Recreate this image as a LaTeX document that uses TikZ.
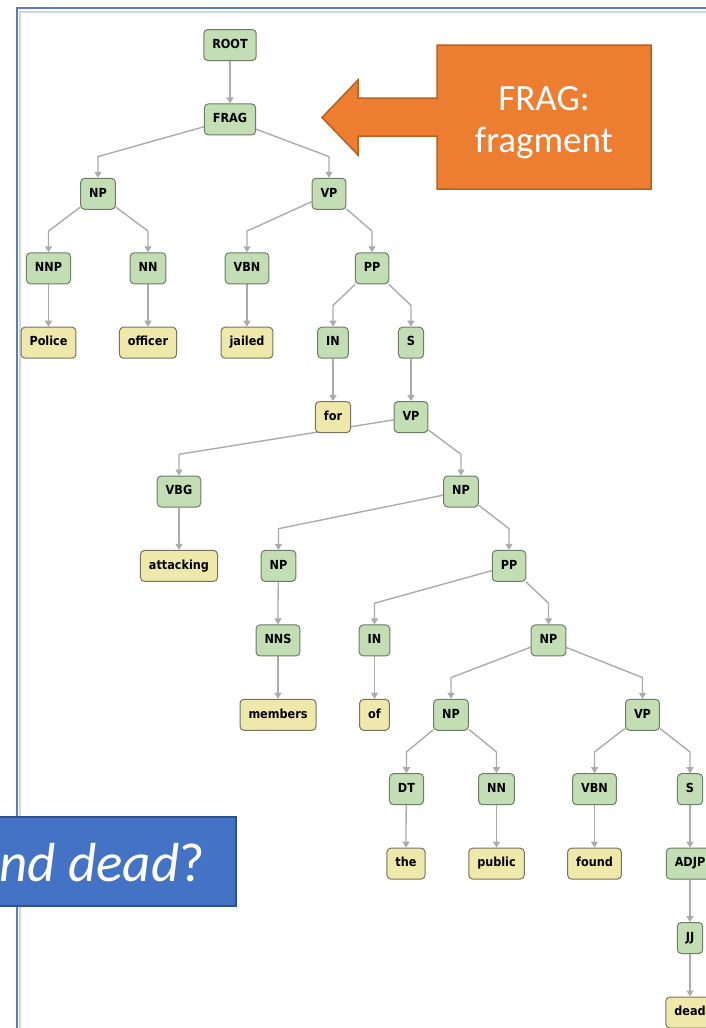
\documentclass[tikz,border=0pt]{standalone}
\usepackage{fontspec}
\newfontfamily\treefont{DejaVu Sans}[FakeStretch=0.9]
\newfontfamily\calfont{Carlito}
\usetikzlibrary{arrows.meta}
\pgfdeclarelayer{background}
\pgfsetlayers{background,main}
\definecolor{synfill}{HTML}{C3DDB5}
\definecolor{syndraw}{HTML}{6B7D65}
\definecolor{wordfill}{HTML}{EEE8AA}
\definecolor{worddraw}{HTML}{77735E}
\definecolor{edgegray}{HTML}{ABABAB}
\definecolor{orangefill}{HTML}{ED7D31}
\definecolor{orangedraw}{HTML}{B9601F}
\definecolor{bluefill}{HTML}{4472C4}
\definecolor{bluedraw}{HTML}{2F528F}
\definecolor{framedark}{HTML}{5A7CC4}
\definecolor{framelight}{HTML}{C6D6F6}
\tikzset{
  treenode/.style={rounded corners=4pt, line width=1pt, inner xsep=8.5pt, inner ysep=0pt,
    minimum height=31pt, text height=9pt, text depth=2.5pt,
    font=\treefont\bfseries\fontsize{12.5}{14}\selectfont},
  syn/.style={treenode, fill=synfill, draw=syndraw},
  word/.style={treenode, fill=wordfill, draw=worddraw},
  edge/.style={draw=edgegray, line width=1.4pt, -{Triangle[width=7pt,length=6pt]}},
  branch/.style={to path={-- ([yshift=37.2pt]\tikztotarget.center) -- (\tikztotarget)}},
  callout/.style={fill=orangefill, draw=orangedraw, line width=1.5pt},
  question/.style={fill=bluefill, draw=bluedraw, line width=1.5pt},
}
\begin{document}
\begin{tikzpicture}[x=1pt,y=-1pt]
\useasboundingbox (0,0) rectangle (706,1028);
% frame
\begin{pgfonlayer}{background}
\draw[framedark, line width=2pt] (17,1040) -- (17,8) -- (720,8);
\draw[framelight, line width=2pt] (20,1040) -- (20,11.5) -- (720,11.5);
\end{pgfonlayer}
% nodes
\node[syn] (ROOT) at (230,45) {ROOT};
\node[syn] (FRAG) at (230,119.4) {FRAG};
\node[syn] (NPa) at (98,193.8) {NP};
\node[syn] (VPa) at (329,193.8) {VP};
\node[syn] (NNP) at (48.5,268.3) {NNP};
\node[syn] (NNa) at (148,268.3) {NN};
\node[syn] (VBNa) at (247,268.3) {VBN};
\node[syn] (PPa) at (372,268.3) {PP};
\node[word] (wPolice) at (48.5,342.7) {Police};
\node[word] (wofficer) at (148,342.7) {officer};
\node[word] (wjailed) at (247,342.7) {jailed};
\node[syn] (INa) at (333,342.7) {IN};
\node[syn] (Sa) at (411,342.7) {S};
\node[word] (wfor) at (333,417.1) {for};
\node[syn] (VPb) at (411,417.1) {VP};
\node[syn] (VBG) at (179,491.5) {VBG};
\node[syn] (NPb) at (461,491.5) {NP};
\node[word] (wattacking) at (179,565.9) {attacking};
\node[syn] (NPc) at (278.5,565.9) {NP};
\node[syn] (PPb) at (509,565.9) {PP};
\node[syn] (NNS) at (278,640.4) {NNS};
\node[syn] (INb) at (374.5,640.4) {IN};
\node[syn] (NPd) at (548.5,640.4) {NP};
\node[word] (wmembers) at (278,714.8) {members};
\node[word] (wof) at (374.5,714.8) {of};
\node[syn] (NPe) at (451,714.8) {NP};
\node[syn] (VPc) at (642.5,714.8) {VP};
\node[syn] (DT) at (406.5,789.2) {DT};
\node[syn] (NNb) at (496.5,789.2) {NN};
\node[syn] (VBNb) at (594.5,789.2) {VBN};
\node[syn] (Sb) at (690,789.2) {S};
\node[word] (wthe) at (406,863.6) {the};
\node[word] (wpublic) at (496.5,863.6) {public};
\node[word] (wfound) at (594.5,863.6) {found};
\node[syn] (ADJP) at (690,863.6) {ADJP};
\node[syn] (JJ) at (690,938) {JJ};
\node[word] (wdead) at (690,1012.5) {dead};
% edges
\begin{pgfonlayer}{background}
\draw[edge] (ROOT) to[branch] (FRAG);
\draw[edge] (FRAG) to[branch] (NPa);
\draw[edge] (FRAG) to[branch] (VPa);
\draw[edge] (NPa) to[branch] (NNP);
\draw[edge] (NPa) to[branch] (NNa);
\draw[edge] (NNP) to[branch] (wPolice);
\draw[edge] (NNa) to[branch] (wofficer);
\draw[edge] (VPa) to[branch] (VBNa);
\draw[edge] (VPa) to[branch] (PPa);
\draw[edge] (VBNa) to[branch] (wjailed);
\draw[edge] (PPa) to[branch] (INa);
\draw[edge] (PPa) to[branch] (Sa);
\draw[edge] (INa) to[branch] (wfor);
\draw[edge] (Sa) to[branch] (VPb);
\draw[edge] (VPb) to[branch] (VBG);
\draw[edge] (VPb) to[branch] (NPb);
\draw[edge] (VBG) to[branch] (wattacking);
\draw[edge] (NPb) to[branch] (NPc);
\draw[edge] (NPb) to[branch] (PPb);
\draw[edge] (NPc) to[branch] (NNS);
\draw[edge] (NNS) to[branch] (wmembers);
\draw[edge] (PPb) to[branch] (INb);
\draw[edge] (PPb) to[branch] (NPd);
\draw[edge] (INb) to[branch] (wof);
\draw[edge] (NPd) to[branch] (NPe);
\draw[edge] (NPd) to[branch] (VPc);
\draw[edge] (NPe) to[branch] (DT);
\draw[edge] (NPe) to[branch] (NNb);
\draw[edge] (DT) to[branch] (wthe);
\draw[edge] (NNb) to[branch] (wpublic);
\draw[edge] (VPc) to[branch] (VBNb);
\draw[edge] (VPc) to[branch] (Sb);
\draw[edge] (VBNb) to[branch] (wfound);
\draw[edge] (Sb) to[branch] (ADJP);
\draw[edge] (ADJP) to[branch] (JJ);
\draw[edge] (JJ) to[branch] (wdead);
\end{pgfonlayer}
% orange callout
\draw[callout] (437,45) -- (651,45) -- (651,189) -- (437,189) -- (437,136) -- (358,136)
  -- (358,155) -- (322,117.5) -- (358,80) -- (358,98) -- (437,98) -- cycle;
\node[text=white, align=center, font=\calfont\fontsize{37}{42}\selectfont] (fragtext) at (544,123) {FRAG:\\fragment};
% blue question box
\draw[question] (-10,817) rectangle (236,906);
\node[text=white, anchor=base east, inner sep=0pt, font=\calfont\fontsize{55}{60}\selectfont] (qtext) at (205,881) {\itshape nd dead\upshape?};
\end{tikzpicture}
\end{document}
